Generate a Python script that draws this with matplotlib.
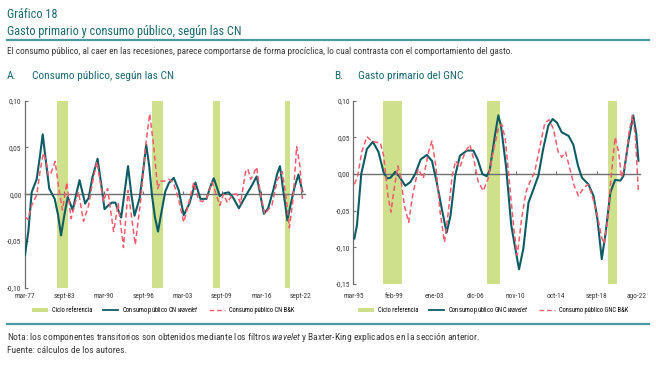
import matplotlib
matplotlib.use('Agg')
import matplotlib.pyplot as plt
from matplotlib import font_manager
from matplotlib.lines import Line2D
from matplotlib.patches import Patch

# ---- data ----
# panel A: quarters counted from mar-77
cn_q_wav = [0, 2.2, 4.4, 7.7, 9.8, 11.7, 13.8, 16, 19.6, 21.8, 23.8, 26, 28.2, 31.5, 33.8,
            36, 39.7, 42, 44.5, 47.9, 50.2, 52.5, 55, 57.4, 59.6, 63.5, 65.8, 68, 70.2, 72.3,
            75.7, 78, 80, 82, 83.8, 85.8, 87.8, 90, 92.6, 95, 98.2, 101.5, 104.8, 108.5, 112.5,
            115.8, 119.8, 122.3, 124.6, 128.6, 131.5, 134.5, 137.5, 141.2, 146.7, 150, 152.9,
            155.3, 157.7, 160.5, 164, 166.5, 168.3, 170.8, 173.2, 175.5, 178, 180.5, 183.1]
cn_wavelet = [-0.065, -0.040, 0.002, 0.016, 0.040, 0.064, 0.035, 0.006, -0.005, -0.022, -0.044,
              -0.022, -0.003, -0.017, 0.000, 0.015, -0.010, -0.004, 0.018, 0.038, 0.012, -0.016,
              -0.012, -0.009, -0.009, -0.025, 0.003, 0.030, 0.000, -0.023, -0.004, 0.025, 0.053,
              0.030, -0.001, -0.025, -0.040, -0.020, 0.003, 0.012, 0.0175, 0.004, -0.0225, -0.010,
              0.0125, -0.005, -0.005, 0.008, 0.017, -0.002, 0.001, 0.002, -0.004, -0.015, 0.001,
              0.010, 0.019, 0.000, -0.021, -0.015, 0.005, 0.022, 0.030, 0.000, -0.028, -0.010,
              0.008, 0.021, 0.003]
cn_q_bk = [0, 2, 4.4, 7.7, 10, 12.1, 14, 15.4, 17, 19.9, 22.5, 24.7, 27.6, 30.4, 33, 35.3, 38.6,
           42, 44.5, 47.4, 50, 51.8, 54.5, 58.5, 61.5, 65, 68, 72.8, 76.5, 79.5, 82.3, 84.9, 87.6,
           89.3, 92, 95, 98, 101, 104.8, 108, 111.4, 114.5, 117, 120, 123.5, 128.6, 131, 133.5,
           137, 140, 142.3, 145.6, 147.1, 149, 150.5, 152.9, 155.3, 158.2, 163, 166.5, 169.9,
           172.5, 174.5, 177, 179.3, 181.5, 183.1]
cn_bk = [-0.024, -0.027, -0.012, -0.001, 0.025, 0.044, 0.035, 0.020, 0.022, 0.035, 0.004, -0.017,
         0.0125, -0.026, -0.010, 0.0025, -0.029, -0.012, 0.012, 0.035, 0.010, -0.008, 0.006,
         -0.040, -0.010, -0.057, 0.004, -0.054, -0.005, 0.050, 0.086, 0.052, 0.006, 0.014, 0.014,
         0.016, 0.012, -0.003, -0.030, -0.010, 0.0125, -0.006, -0.008, -0.004, 0.013, -0.012,
         0.000, -0.009, 0.000, 0.000, -0.010, 0.024, 0.027, 0.016, 0.020, 0.029, 0.001, -0.021,
         -0.012, 0.015, 0.024, -0.005, -0.036, -0.005, 0.051, 0.030, -0.005]
cn_cycles = [(21.4, 28.3), (84, 91.2), (124, 129), (171.4, 174.7)]
cn_ticks = [0, 26, 52, 78, 104, 130, 156, 182]
cn_labels = ['mar-77', 'sept-83', 'mar-90', 'sept-96', 'mar-03', 'sept-09', 'mar-16', 'sept-22']

# panel B: months counted from mar-95
gnc_m_wav = [1, 4, 9, 15.5, 22.5, 29, 35, 39, 43, 48.5, 54, 60, 66, 71.5, 78, 85, 91, 96.5, 102,
             108, 112.5, 118, 123.5, 131.5, 139, 144, 149.5, 154.5, 158, 164, 168, 171, 177, 183,
             192, 197, 203, 209, 214.5, 220, 226, 231, 236, 241.5, 249.5, 255, 260.5, 265, 272.5,
             278.5, 283, 288, 292.5, 298, 303.5, 309.5, 313, 319, 324.5, 328, 330.5]
gnc_wavelet = [-0.088, -0.070, 0.000, 0.034, 0.044, 0.030, 0.002, -0.006, -0.005, 0.003, -0.005,
               -0.016, -0.011, 0.000, 0.020, 0.026, 0.018, -0.011, -0.045, -0.080, -0.057, -0.002,
               0.025, 0.032, 0.032, 0.020, 0.000, -0.003, 0.005, 0.052, 0.080, 0.066, 0.010,
               -0.070, -0.130, -0.102, -0.039, -0.020, -0.002, 0.034, 0.066, 0.075, 0.070, 0.057,
               0.052, 0.040, 0.011, -0.005, -0.014, -0.030, -0.062, -0.116, -0.080, -0.025,
               -0.008, -0.009, -0.003, 0.045, 0.080, 0.055, 0.018]
gnc_m_bk = [1, 5, 9.5, 15.5, 21, 27, 31, 35, 40, 43.5, 46.5, 51.5, 55, 59, 64, 68.5, 75, 81, 87,
            91, 95.5, 100.5, 105.5, 110, 114.5, 118.5, 123.5, 129, 135, 140, 144.5, 150.5, 156,
            162, 168, 172, 176, 182, 186, 190, 195, 200, 204.5, 210, 216.5, 222, 227, 232, 237.5,
            241.5, 246, 251, 256, 261, 266.5, 272, 277, 283, 288, 291, 295, 299, 303.5, 307.5,
            311, 315, 320, 323.5, 327, 330.5]
gnc_bk = [-0.014, -0.002, 0.030, 0.051, 0.045, 0.043, 0.043, 0.025, -0.030, -0.052, -0.025,
          0.011, -0.007, -0.043, -0.066, -0.030, 0.007, -0.006, 0.030, 0.045, 0.011, -0.052,
          -0.093, -0.052, -0.002, 0.018, 0.009, 0.029, 0.040, 0.018, -0.010, -0.023, -0.007,
          0.030, 0.062, 0.068, 0.048, -0.025, -0.075, -0.111, -0.061, -0.025, -0.011, 0.002,
          0.039, 0.070, 0.074, 0.061, 0.030, 0.023, 0.030, 0.007, -0.016, -0.030, -0.020,
          -0.014, -0.030, -0.057, -0.087, -0.095, -0.060, -0.002, 0.050, 0.030, -0.005, 0.011,
          0.060, 0.080, 0.052, -0.025]
gnc_cycles = [(34.8, 56.6), (154.9, 170.3), (295.6, 305.3)]
gnc_ticks = [0, 47, 94, 141, 188, 235, 282, 329]
gnc_labels = ['mar-95', 'feb-99', 'ene-03', 'dic-06', 'nov-10', 'oct-14', 'sept-18', 'ago-22']

TEAL = '#0d5c64'
RED = '#f25c6c'
GREEN = '#cfe08c'
HEAD = '#1c6870'
RULE = '#4c9ba2'
GREY = '#6e6e6e'
TXT = '#3a3a3a'

# a narrow sans is closer to the original condensed face
names = {f.name for f in font_manager.fontManager.ttflist}
narrow = [n for n in ['Liberation Sans Narrow', 'Roboto Condensed', 'Open Sans Condensed']
          if n in names]
base = narrow[0] if narrow else 'DejaVu Sans'
k = 1.0 if narrow else 0.78
plt.rcParams['font.family'] = [base, 'DejaVu Sans']
plt.rcParams['mathtext.fontset'] = 'custom'
plt.rcParams['mathtext.rm'] = base
plt.rcParams['mathtext.it'] = base + ':italic'

W, H = 656, 372
fig = plt.figure(figsize=(W / 100, H / 100), dpi=100)


def box(x0, x1, ytop, ybot):
    return [x0 / W, 1 - ybot / H, (x1 - x0) / W, (ybot - ytop) / H]


def fmt(v):
    return f'{v:.2f}'.replace('.', ',')


def panel(ax, cycles, xw, yw, xb, yb, xmax, ylim, yticks, ticks, labels, pad):
    for a, b in cycles:
        ax.axvspan(a, b, color=GREEN, lw=0, zorder=1)
    ax.plot(xw, yw, color=TEAL, lw=1.5, zorder=3)
    ax.plot(xb, yb, color=RED, lw=1.1, dashes=(3.4, 2.0), zorder=4)
    ax.set_xlim(0, xmax)
    ax.set_ylim(*ylim)
    for s in ['top', 'right', 'bottom']:
        ax.spines[s].set_visible(False)
    ax.spines['left'].set_color(GREY)
    ax.spines['left'].set_linewidth(0.9)
    ax.set_yticks(yticks)
    ax.set_yticklabels([fmt(v) for v in yticks])
    ax.tick_params(axis='y', direction='in', length=2, width=0.8, color=GREY,
                   labelsize=5.4 * k, labelcolor=TXT, pad=2.5)
    ax.set_xticks(ticks)
    ax.set_xticklabels(labels)
    ax.tick_params(axis='x', length=0, labelsize=5.3 * k, labelcolor=TXT, pad=pad)
    # zero line with its small tick marks
    zero = ax.secondary_xaxis(0, transform=ax.transData)
    zero.set_zorder(2)
    zero.spines['bottom'].set_color(GREY)
    zero.spines['bottom'].set_linewidth(1.0)
    zero.set_xticks(ticks)
    zero.tick_params(axis='x', direction='in', length=2.2, width=0.8, color=GREY,
                     labelbottom=False)


axA = fig.add_axes(box(25, 304.5, 100.7, 287.7))
panel(axA, cn_cycles, cn_q_wav, cn_wavelet, cn_q_bk, cn_bk, 184.5, (-0.10, 0.10),
      [-0.10, -0.05, 0.0, 0.05, 0.10], cn_ticks, cn_labels, 3.5)

axB = fig.add_axes(box(353.5, 639.7, 100.7, 284))
panel(axB, gnc_cycles, gnc_m_wav, gnc_wavelet, gnc_m_bk, gnc_bk, 332, (-0.15, 0.10),
      [-0.15, -0.10, -0.05, 0.0, 0.05, 0.10], gnc_ticks, gnc_labels, 6.3)

# headings
fig.text(7 / W, 1 - 15 / H, 'Gráfico 18', color=HEAD, size=8.8 * k, va='center')
fig.text(7 / W, 1 - 31.5 / H, 'Gasto primario y consumo público, según las CN', color=HEAD,
         size=8.8 * k, va='center')
fig.add_artist(Line2D([7 / W, 649 / W], [1 - 40 / H, 1 - 40 / H], color=RULE, lw=1.6))
fig.text(7 / W, 1 - 51.5 / H, 'El consumo público, al caer en las recesiones, parece comportarse '
         'de forma procíclica, lo cual contrasta con el comportamiento del gasto.',
         color=TXT, size=6.65 * k, va='center')
fig.text(7 / W, 1 - 76 / H, 'A.', color=HEAD, size=8.2 * k, va='center')
fig.text(32 / W, 1 - 76 / H, 'Consumo público, según las CN', color=HEAD, size=8.2 * k,
         va='center')
fig.text(334 / W, 1 - 76 / H, 'B.', color=HEAD, size=8.2 * k, va='center')
fig.text(358 / W, 1 - 76 / H, 'Gasto primario del GNC', color=HEAD, size=8.2 * k, va='center')

# legends
for cx, tag in [(163, 'CN'), (493, 'GNC')]:
    handles = [Patch(facecolor=GREEN, edgecolor='none'),
               Line2D([], [], color=TEAL, lw=1.3),
               Line2D([], [], color=RED, lw=1.0, dashes=(3.4, 2.0))]
    texts = ['Ciclo referencia', f'Consumo público {tag} $\\it{{wavelet}}$',
             f'Consumo público {tag} B&K']
    fig.legend(handles, texts, loc='center', bbox_to_anchor=(cx / W, 1 - 310.7 / H), ncol=3,
               frameon=False, fontsize=4.7 * k, handlelength=2.4, handleheight=0.6,
               handletextpad=0.6, columnspacing=1.6, borderpad=0)

# footer
fig.add_artist(Line2D([7 / W, 649 / W], [1 - 323.5 / H, 1 - 323.5 / H], color=RULE, lw=1.6))
fig.text(7 / W, 1 - 337.7 / H, 'Nota: los componentes transitorios son obtenidos mediante los '
         'filtros $\\it{wavelet}$ y Baxter-King explicados en la sección anterior.',
         color=TXT, size=6.8 * k, va='center')
fig.text(7 / W, 1 - 350.5 / H, 'Fuente: cálculos de los autores.', color=TXT, size=6.8 * k,
         va='center')

fig.savefig('out.png', dpi=100)
